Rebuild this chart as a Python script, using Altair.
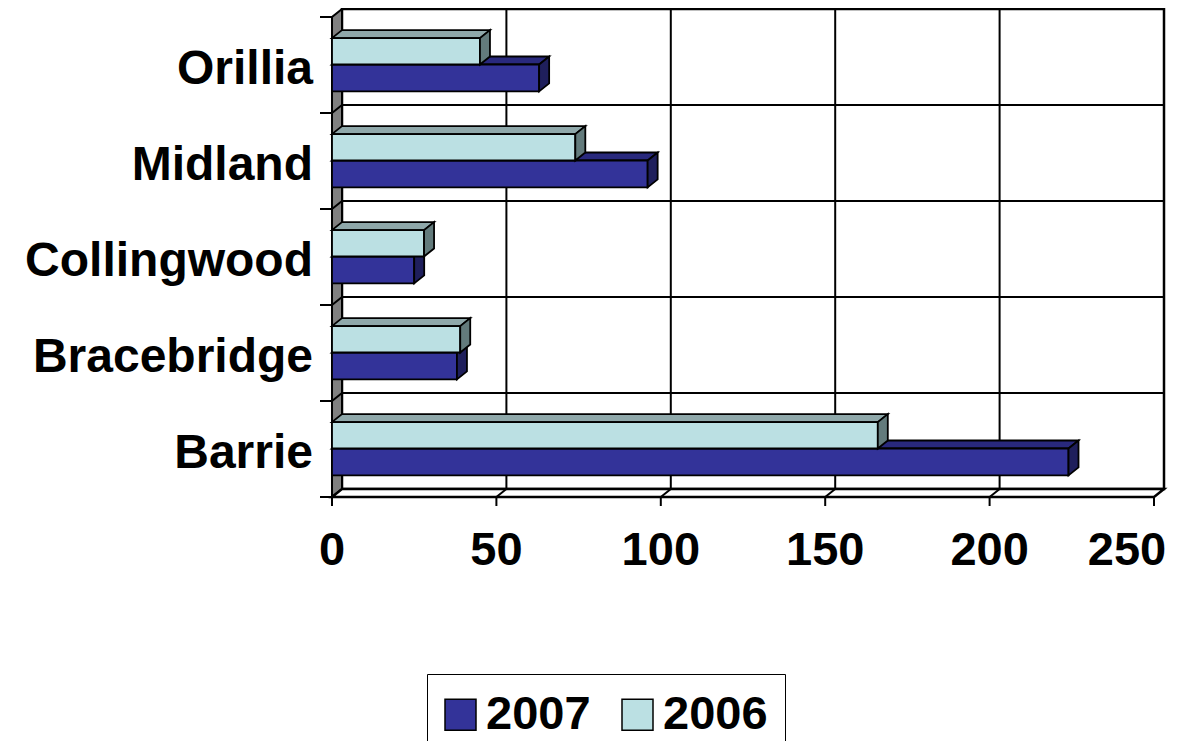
import json
import altair as alt
import pandas as pd

# ---- data ----
cities = ["Barrie", "Bracebridge", "Collingwood", "Midland", "Orillia"]
v2007 = [224, 38, 25, 96, 63]
v2006 = [166, 39, 28, 74, 45]
series = ["2007", "2006"]
x_ticks = [0, 50, 100, 150, 200, 250]

# ---- style ----
FONT = "Liberation Sans, Arial, sans-serif"
front_colors = {"2007": "#333399", "2006": "#BBE0E3"}
top_colors = {"2007": "#29297D", "2006": "#8FA8AA"}
side_colors = {"2007": "#1F1F5C", "2006": "#637B7C"}

XMAX = 250
PXU = 3.288          # pixels per value unit
BAND_PX = 96         # pixels per category band
DX = 10 / PXU        # 3-D depth along x (value units)
DY = 8 / BAND_PX     # 3-D depth along y (band units)
N = len(cities)
W = round((XMAX + DX) * PXU)
H = round((N + DY) * BAND_PX)
slots = {"2007": (0.225, 0.505), "2006": (0.505, 0.78)}

xs = alt.Scale(domain=[0, XMAX + DX], nice=False, zero=False)
ys = alt.Scale(domain=[0, N + DY], nice=False, zero=False)


def X(f="x"):
    return alt.X(f"{f}:Q", scale=xs, axis=None)


def Y(f="y"):
    return alt.Y(f"{f}:Q", scale=ys, axis=None, stack=None)


# ---- build bar geometry tables from the values ----
front_rows, top_rows, side_rows = [], [], []
for s, vals in (("2007", v2007), ("2006", v2006)):
    lo, hi = slots[s]
    for i, (c, v) in enumerate(zip(cities, vals)):
        yb, yt = i + lo, i + hi
        key = f"{s}-{c}"
        front_rows.append(dict(series=s, city=c, value=v, x=0, x2=v, y=yb, y2=yt))
        for x, y, y2 in [(0, yt, yt), (DX, yt, yt + DY), (v, yt, yt + DY), (v + DX, yt + DY, yt + DY)]:
            top_rows.append(dict(series=s, key=key, x=x, y=y, y2=y2))
        for x, y, y2 in [(v, yb, yt), (v + DX, yb + DY, yt + DY)]:
            side_rows.append(dict(series=s, key=key, x=x, y=y, y2=y2))
front_df = pd.DataFrame(front_rows)
top_df = pd.DataFrame(top_rows)
side_df = pd.DataFrame(side_rows)

# ---- walls, floor, grid ----
wall_df = pd.DataFrame({"x": [DX], "x2": [XMAX + DX], "y": [DY], "y2": [N + DY]})
back = alt.Chart(wall_df).mark_rect(fill="white", stroke="black", strokeWidth=2.5).encode(
    x=X(), x2="x2:Q", y=Y(), y2="y2:Q")

vgrid_df = pd.DataFrame({"x": [t + DX for t in x_ticks[1:-1]], "y": DY, "y2": N + DY})
vgrid = alt.Chart(vgrid_df).mark_rule(color="black", strokeWidth=2).encode(x=X(), y=Y(), y2="y2:Q")

hgrid_df = pd.DataFrame({"y": [i + DY for i in range(1, N)], "x": DX, "x2": XMAX + DX})
hgrid = alt.Chart(hgrid_df).mark_rule(color="black", strokeWidth=2).encode(x=X(), x2="x2:Q", y=Y())

lwall_df = pd.DataFrame({"x": [0, DX], "y": [0, DY], "y2": [N, N + DY]})
lwall = alt.Chart(lwall_df).mark_area(fill="#808080", stroke="black", strokeWidth=2,
                                      orient="vertical").encode(x=X(), y=Y(), y2="y2:Q")

floor_df = pd.DataFrame({"x": [0, DX, XMAX, XMAX + DX], "y": [0, 0, 0, DY], "y2": [0, DY, DY, DY]})
floor = alt.Chart(floor_df).mark_area(fill="white", stroke="black", strokeWidth=2.5,
                                      orient="vertical").encode(x=X(), y=Y(), y2="y2:Q")

diag_rows = [dict(x=0, y=i, x2=DX, y2=i + DY) for i in range(1, N)]
diag_rows += [dict(x=t, y=0, x2=t + DX, y2=DY) for t in x_ticks[1:-1]]
diag = alt.Chart(pd.DataFrame(diag_rows)).mark_rule(color="black", strokeWidth=2).encode(
    x=X(), x2="x2:Q", y=Y(), y2="y2:Q")

# ---- axis ticks and labels ----
lticks = alt.Chart(pd.DataFrame({"y": list(range(N + 1))})).mark_rule(color="black", strokeWidth=2).encode(
    x=alt.value(-12), x2=alt.value(0), y=Y())
bticks = alt.Chart(pd.DataFrame({"x": x_ticks})).mark_rule(color="black", strokeWidth=2).encode(
    x=X(), y=alt.value(H), y2=alt.value(H + 9))

ylab_df = pd.DataFrame({"city": cities, "y": [i + 0.45 for i in range(N)]})
ylabels = alt.Chart(ylab_df).mark_text(
    align="right", baseline="middle", font=FONT, fontSize=48, fontWeight="bold", color="black"
).encode(x=alt.value(-19), y=Y(), text="city:N")

xlab_df = pd.DataFrame({"x": x_ticks, "label": [str(t) for t in x_ticks]})
xlab_style = dict(align="center", baseline="top", font=FONT, fontSize=47, fontWeight="bold", color="black")
xlabels = alt.Chart(xlab_df).transform_filter(alt.datum.x < XMAX).mark_text(**xlab_style).encode(
    x=X(), y=alt.value(H + 31), text="label:N")
xlabel_last = alt.Chart(xlab_df).transform_filter(alt.datum.x >= XMAX).mark_text(
    dx=-27, **xlab_style).encode(x=X(), y=alt.value(H + 31), text="label:N")

# ---- bars ----
legend = alt.Legend(
    title=None, orient="none", legendX=95, legendY=665, direction="horizontal",
    strokeColor="black", padding=17, symbolType="square", symbolSize=961,
    symbolStrokeColor="black", symbolStrokeWidth=1.5, symbolOpacity=1, symbolOffset=-7,
    labelFontSize=47, labelFont=FONT, labelFontWeight="bold", labelColor="black",
    labelOffset=2, columnPadding=28)
color = alt.Color("series:N", scale=alt.Scale(domain=series, range=[front_colors[s] for s in series]),
                  legend=legend)


def bar_layers(s):
    top = alt.Chart(top_df).transform_filter(alt.datum.series == s).mark_area(
        fill=top_colors[s], stroke="black", strokeWidth=1.8, orient="vertical").encode(
        x=X(), y=Y(), y2="y2:Q", detail="key:N")
    front = alt.Chart(front_df).transform_filter(alt.datum.series == s).mark_rect(
        stroke="black", strokeWidth=1.8, opacity=1).encode(
        x=X(), x2="x2:Q", y=Y(), y2="y2:Q", color=color,
        tooltip=["city:N", "series:N", "value:Q"])
    side = alt.Chart(side_df).transform_filter(alt.datum.series == s).mark_area(
        fill=side_colors[s], stroke="black", strokeWidth=1.8, orient="vertical").encode(
        x=X(), y=Y(), y2="y2:Q", detail="key:N")
    return [top, front, side]


layers = ([back, vgrid, hgrid, lwall, floor, diag, lticks, bticks, ylabels, xlabels, xlabel_last]
          + bar_layers("2007") + bar_layers("2006"))

chart = alt.layer(*layers).properties(
    width=W, height=H,
    autosize=alt.AutoSizeParams(type="none"),
    padding={"left": 324, "top": 1, "right": 28, "bottom": 244},
    background="white",
).configure_view(stroke=None)

chart.save("out.html", embed_options={"renderer": "svg", "actions": False})
